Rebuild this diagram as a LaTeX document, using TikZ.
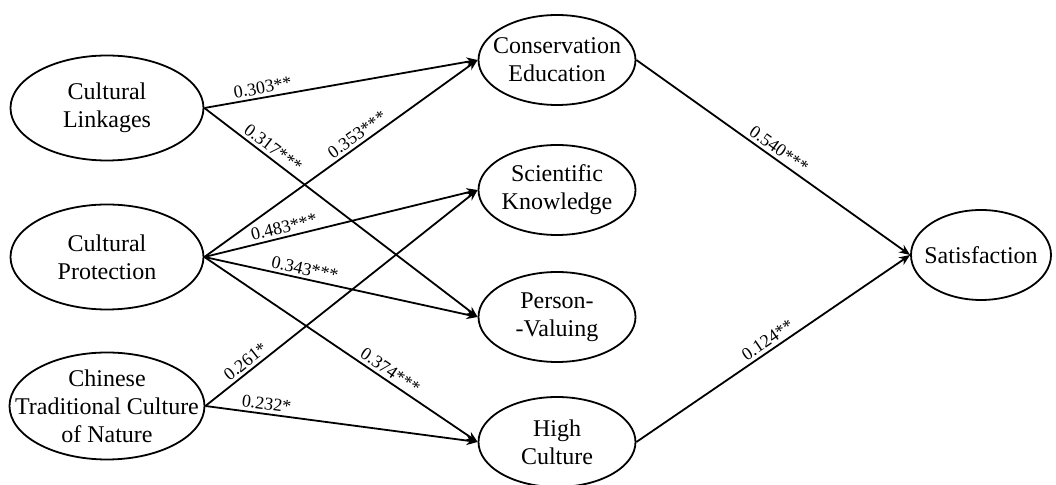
\documentclass[tikz,border=0pt]{standalone}
\usepackage{fontspec}
\setmainfont{Liberation Serif}
\usetikzlibrary{shapes.geometric,positioning}
\usetikzlibrary{arrows.meta}

\tikzset{
  latent/.style={ellipse,draw,line width=0.9pt,minimum width=78.5pt,minimum height=45pt,
    inner xsep=-14pt,inner ysep=-6pt,align=center,font=\fontsize{12}{14}\selectfont},
  wide/.style={minimum width=96.5pt,minimum height=52.5pt},
  coef/.style={font=\fontsize{9}{10}\selectfont,sloped,above,inner sep=1.5pt},
}

\begin{document}
\begin{tikzpicture}[x=0.5pt,y=-0.5pt,node distance=74.5pt,line width=0.9pt,>={Stealth[length=5.5pt,width=4.5pt]}]
	\useasboundingbox (0,0) rectangle (1056,485);
	\node[latent,wide] (cl) at (107,108) {Cultural\\Linkages};
	\node[latent,wide] (cp) [below of=cl] {Cultural\\Protection};
	\node[latent,wide] (ct) [below of=cp,minimum width=97.5pt,minimum height=53.5pt] {Chinese\\Traditional Culture\\of Nature};
	\node[latent] (ce) at (557,60) {Conservation\\Education};
	\node[latent] (sk) [below of=ce,node distance=65pt] {Scientific\\Knowledge};
	\node[latent] (pv) [below of=sk,node distance=63.5pt] {Person-\\-Valuing};
	\node[latent] (hc) [below of=pv,node distance=62.5pt] {High\\Culture};
	\node[latent,minimum width=70pt] (sat) at (981,255) {Satisfaction};
	\path[->]
	(cl.east) edge  node [coef,pos=0.22] {0.303**} (ce.west)
	(cl.east) edge  node [coef,pos=0.23] {0.317***} (pv.west)
	(cp.east) edge  node [coef,pos=0.58] {0.353***} (ce.west)
	(cp.east) edge  node [coef,pos=0.3] {0.483***} (sk.west)
	(cp.east) edge  node [coef,pos=0.36] {0.343***} (pv.west)
	(cp.east) edge  node [coef,pos=0.66] {0.374***} (hc.west)
	(ct.east) edge  node [coef,pos=0.17] {0.261*} (sk.west)
	(ct.east) edge  node [coef,pos=0.22] {0.232*} (hc.west)
	(ce.east) edge  node [coef,pos=0.5] {0.540***} (sat.west)
	(hc.east) edge  node [coef,pos=0.5] {0.124**} (sat.west)
;
\end{tikzpicture}
\end{document}
